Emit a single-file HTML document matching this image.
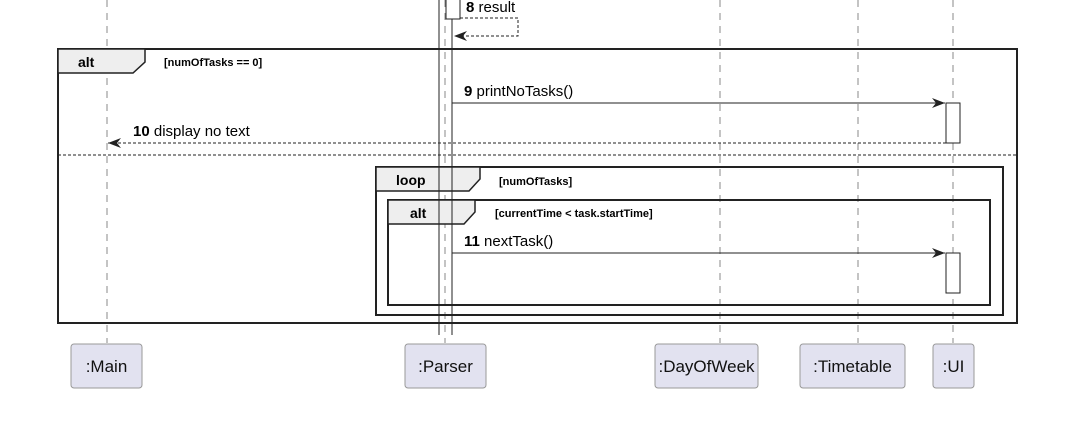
<!DOCTYPE html>
<html><head><meta charset="utf-8"><style>
html,body{margin:0;padding:0;background:#fff;width:1089px;height:441px;overflow:hidden}
svg{display:block;font-family:"Liberation Sans",sans-serif}
</style></head><body>
<svg width="1089" height="441" viewBox="0 0 1089 441" xmlns="http://www.w3.org/2000/svg">
<defs>
<marker id="a" markerWidth="14" markerHeight="12" refX="13" refY="6" orient="auto" markerUnits="userSpaceOnUse">
<path d="M0,1 L13,6 L0,11 L4,6 Z" fill="#222"/></marker>
</defs>
<g stroke="#888" stroke-width="1" stroke-dasharray="7,6">
<line x1="107" y1="0" x2="107" y2="343"/>
<line x1="445" y1="0" x2="445" y2="343"/>
<line x1="720" y1="0" x2="720" y2="343"/>
<line x1="858" y1="0" x2="858" y2="343"/>
<line x1="953" y1="0" x2="953" y2="343"/>
</g>
<rect x="58" y="49" width="959" height="274" fill="none" stroke="#222" stroke-width="2"/>
<path d="M58,49 H145 V62 L133,73 H58 Z" fill="#eee" stroke="#222" stroke-width="1.5"/>
<text x="78" y="67" font-size="14" font-weight="bold">alt</text>
<text x="164" y="66" font-size="11" font-weight="bold">[numOfTasks == 0]</text>
<line x1="58" y1="155" x2="1017" y2="155" stroke="#222" stroke-dasharray="3,2"/>
<rect x="376" y="167" width="627" height="148" fill="none" stroke="#222" stroke-width="2"/>
<path d="M376,167 H480 V179 L469,191 H376 Z" fill="#eee" stroke="#222" stroke-width="1.5"/>
<text x="396" y="185" font-size="14" font-weight="bold">loop</text>
<text x="499" y="185" font-size="11" font-weight="bold">[numOfTasks]</text>
<rect x="388" y="200" width="602" height="105" fill="none" stroke="#222" stroke-width="2"/>
<path d="M388,200 H475 V212 L464,224 H388 Z" fill="#eee" stroke="#222" stroke-width="1.5"/>
<text x="410" y="218" font-size="14" font-weight="bold">alt</text>
<text x="495" y="217" font-size="11" font-weight="bold">[currentTime &lt; task.startTime]</text>
<line x1="439" y1="0" x2="439" y2="335" stroke="#222"/>
<line x1="452" y1="0" x2="452" y2="335" stroke="#222"/>
<rect x="446" y="-1" width="14" height="20" fill="#fff" stroke="#222"/>
<text x="466" y="12" font-size="15"><tspan font-weight="bold">8</tspan> result</text>
<path d="M460,18 H518 V36 H454" fill="none" stroke="#222" stroke-dasharray="3,2" marker-end="url(#a)"/>
<text x="464" y="96" font-size="15"><tspan font-weight="bold">9</tspan> printNoTasks()</text>
<line x1="452" y1="103" x2="945" y2="103" stroke="#222" marker-end="url(#a)"/>
<rect x="946" y="103" width="14" height="40" fill="#fff" stroke="#222"/>
<text x="133" y="136" font-size="15"><tspan font-weight="bold">10</tspan> display no text</text>
<line x1="946" y1="143" x2="108" y2="143" stroke="#222" stroke-dasharray="3,2" marker-end="url(#a)"/>
<text x="464" y="246" font-size="15"><tspan font-weight="bold">11</tspan> nextTask()</text>
<line x1="452" y1="253" x2="945" y2="253" stroke="#222" marker-end="url(#a)"/>
<rect x="946" y="253" width="14" height="40" fill="#fff" stroke="#222"/>
<g fill="#e2e2f0" stroke="#999" stroke-width="1">
<rect x="71" y="344" width="71" height="44" rx="3"/>
<rect x="405" y="344" width="81" height="44" rx="3"/>
<rect x="655" y="344" width="103" height="44" rx="3"/>
<rect x="800" y="344" width="105" height="44" rx="3"/>
<rect x="933" y="344" width="41" height="44" rx="3"/>
</g>
<g font-size="17" text-anchor="middle" fill="#111">
<text x="106.5" y="372">:Main</text>
<text x="445.5" y="372">:Parser</text>
<text x="706.5" y="372">:DayOfWeek</text>
<text x="852.5" y="372">:Timetable</text>
<text x="953.5" y="372">:UI</text>
</g>
</svg>
</body></html>
